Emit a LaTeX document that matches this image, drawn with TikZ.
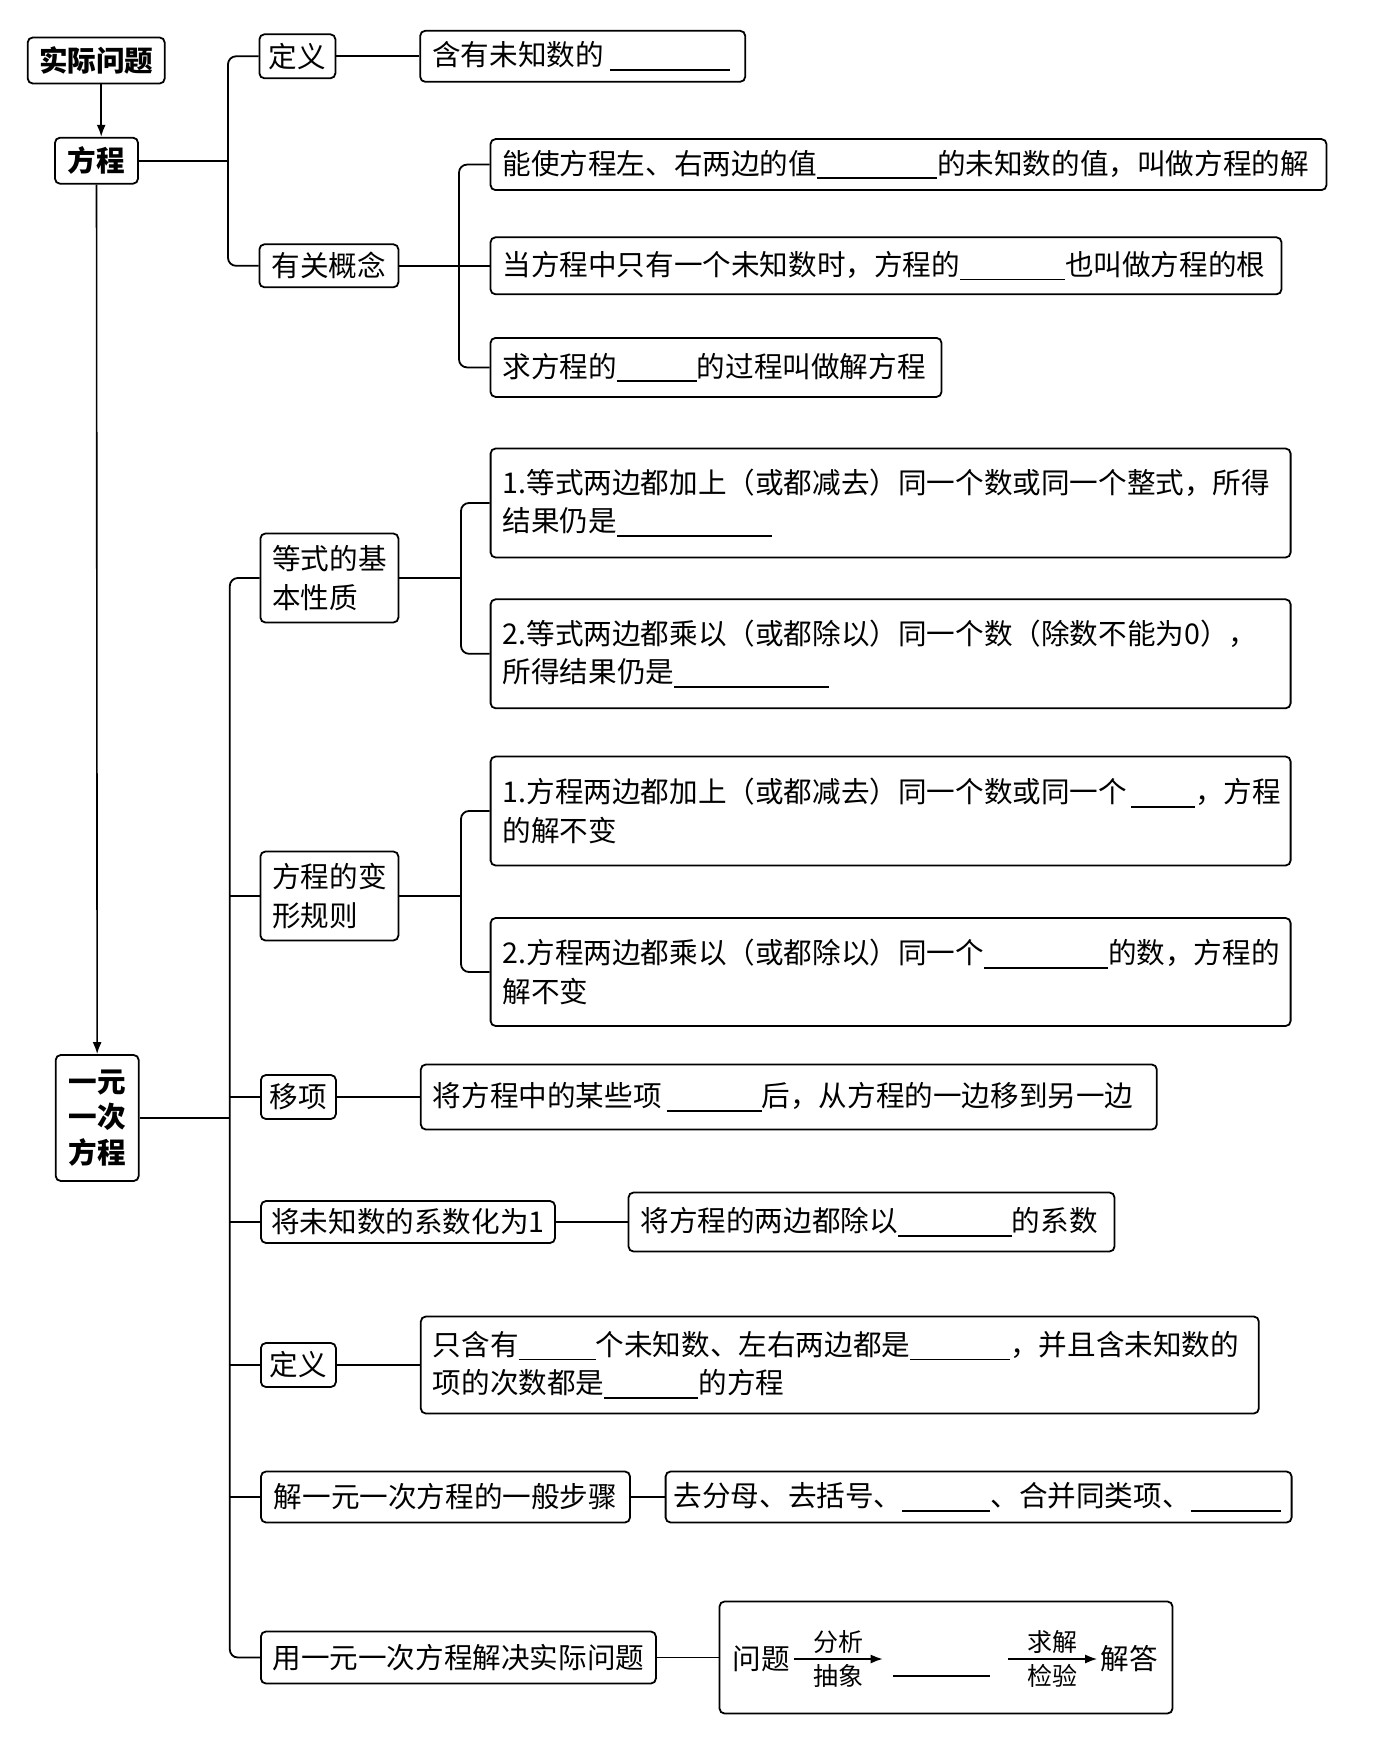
\documentclass[tikz,border=0pt]{standalone}
\usepackage{fontspec}
\setmainfont{Noto Sans CJK SC}
\usetikzlibrary{arrows.meta}
\newcommand{\blank}[1]{\rule[-5pt]{#1pt}{1.8pt}}

\begin{document}
\begin{tikzpicture}[x=1pt,y=-1pt,>=Latex,
  every node/.style={font=\fontsize{28.6pt}{38.3pt}\selectfont},
  lbl/.style={draw,line width=1.8pt,rounded corners=5pt,inner sep=0pt,align=left},
  txt/.style={draw,line width=1.8pt,rounded corners=5pt,inner xsep=12pt,inner ysep=0pt,align=left,anchor=west},
  link/.style={line width=1.8pt,rounded corners=8pt},
  arr/.style={line width=1.6pt,-{Latex[length=12pt,width=9pt]}},
  small/.style={font=\fontsize{25pt}{30pt}\selectfont,inner sep=5pt}]
\useasboundingbox (0,0) rectangle (1386,1747);
% main column
\node[lbl,minimum width=137pt,minimum height=46pt] (rq) at (96.2,60.5) {\bfseries 实际问题};
\node[lbl,minimum width=83pt,minimum height=46pt] (eq) at (96.5,160.7) {\bfseries 方程};
\node[lbl,minimum width=83pt,minimum height=126pt,align=center,font=\fontsize{28.6pt}{35.5pt}\selectfont\bfseries] (yy) at (97.2,1118) {一元\\一次\\方程};
\draw[arr] ([xshift=5pt]rq.south) -- ([xshift=5pt]rq.south |- eq.north);
\draw[arr] (eq) -- (yy);
% equation: definition and concepts
\node[lbl,minimum width=76pt,minimum height=44pt] (d1) at (297.4,56.3) {定义};
\node[lbl,minimum width=139pt,minimum height=43pt] (gn) at (328.9,265.8) {有关概念};
\node[txt,text width=301pt,minimum height=51pt] (hy) at (419.3,56.3) {含有未知数的\kern6pt\blank{120}};
\node[txt,text width=812pt,minimum height=51pt] (c1) at (489.6,164.6) {能使方程左、右两边的值\blank{120}的未知数的值，叫做方程的解};
\node[txt,text width=767pt,minimum height=57pt] (c2) at (489.6,265.8) {当方程中只有一个未知数时，方程的\blank{105}也叫做方程的根};
\node[txt,text width=427pt,minimum height=59pt] (c3) at (489.6,367.4) {求方程的\blank{80}的过程叫做解方程};
\draw[link] (d1) -- (hy);
\coordinate (j1) at (228,160.7);
\draw[link] (eq) -- (j1);
\draw[link] (d1.west) -| (j1) |- (gn.west);
\coordinate (j2) at (459,265.8);
\draw[link] (gn) -- (c2);
\draw[link] (c1.west) -| (j2) |- (c3.west);
% properties of equality
\node[lbl,minimum width=138pt,minimum height=89pt] (p) at (329.4,578) {等式的基\\本性质};
\node[txt,text width=776pt,minimum height=109pt] (p1) at (489.7,503) {1.等式两边都加上（或都减去）同一个数或同一个整式，所得\\结果仍是\blank{155}};
\node[txt,text width=776pt,minimum height=109pt] (p2) at (489.7,653.8) {2.等式两边都乘以（或都除以）同一个数（除数不能为0），\\所得结果仍是\blank{155}};
\coordinate (j3) at (461,578);
\draw[link] (p) -- (j3);
\draw[link] (p1.west) -| (j3) |- (p2.west);
% transformation rules
\node[lbl,minimum width=138pt,minimum height=89pt] (r) at (329.4,896) {方程的变\\形规则};
\node[txt,text width=776pt,minimum height=109pt] (r1) at (489.7,811) {1.方程两边都加上（或都减去）同一个数或同一个\kern4pt\blank{64}，方程\\的解不变};
\node[txt,text width=776pt,minimum height=108pt] (r2) at (489.7,972) {2.方程两边都乘以（或都除以）同一个\blank{124}的数，方程的\\解不变};
\coordinate (j4) at (461,896);
\draw[link] (r) -- (j4);
\draw[link] (r1.west) -| (j4) |- (r2.west);
% linear equation branches
\node[lbl,minimum width=75pt,minimum height=44pt] (m) at (298.4,1097) {移项};
\node[txt,text width=712pt,minimum height=65pt] (m1) at (419.9,1097) {将方程中的某些项\kern5pt\blank{95}后，从方程的一边移到另一边};
\node[lbl,minimum width=294pt,minimum height=42pt] (k) at (408,1222) {将未知数的系数化为1};
\node[txt,text width=462pt,minimum height=59pt] (k1) at (627.6,1222) {将方程的两边都除以\blank{114}的系数};
\node[lbl,minimum width=75pt,minimum height=44pt] (d2) at (298.4,1365) {定义};
\node[txt,text width=814pt,minimum height=97pt] (d2t) at (419.9,1365) {只含有\blank{77}个未知数、左右两边都是\blank{100}，并且含未知数的\\项的次数都是\blank{94}的方程};
\node[lbl,minimum width=369pt,minimum height=51pt] (s) at (445.5,1497) {解一元一次方程的一般步骤};
\node[txt,inner xsep=8pt,text width=610pt,minimum height=51pt] (s1) at (664.7,1497) {去分母、去括号、\blank{88}、合并同类项、\blank{90}};
\node[lbl,minimum width=395pt,minimum height=52pt] (u) at (458.4,1657.5) {用一元一次方程解决实际问题};
\node[txt,text width=429pt,minimum height=112pt] (u1) at (718.6,1657.5) {};
% flow inside the last box
\node (wt) at (761.5,1659) {问题};
\node (jd) at (1129.3,1659) {解答};
\node[inner xsep=10pt,inner ysep=0pt] (bk) at (941.4,1676) {\rule{97pt}{1.8pt}};
\draw[arr] (wt.east) -- (wt.east -| bk.west) node[midway,above,small] {分析} node[midway,below,small] {抽象};
\draw[arr] ([xshift=8pt]wt.east -| bk.east) -- (jd.west) node[midway,above,small] {求解} node[midway,below,small] {检验};
% trunk
\coordinate (t) at (229.8,1118);
\draw[link] (yy) -- (t);
\draw[link] (p.west) -| (t) |- (u.west);
\foreach \n in {r,m,k,d2,s} \draw[link] (t |- \n.west) -- (\n.west);
\draw[link] (m) -- (m1);
\draw[link] (k) -- (k1);
\draw[link] (d2) -- (d2t);
\draw[link] (s) -- (s1);
\draw[link] (u) -- (u1);
\end{tikzpicture}
\end{document}
